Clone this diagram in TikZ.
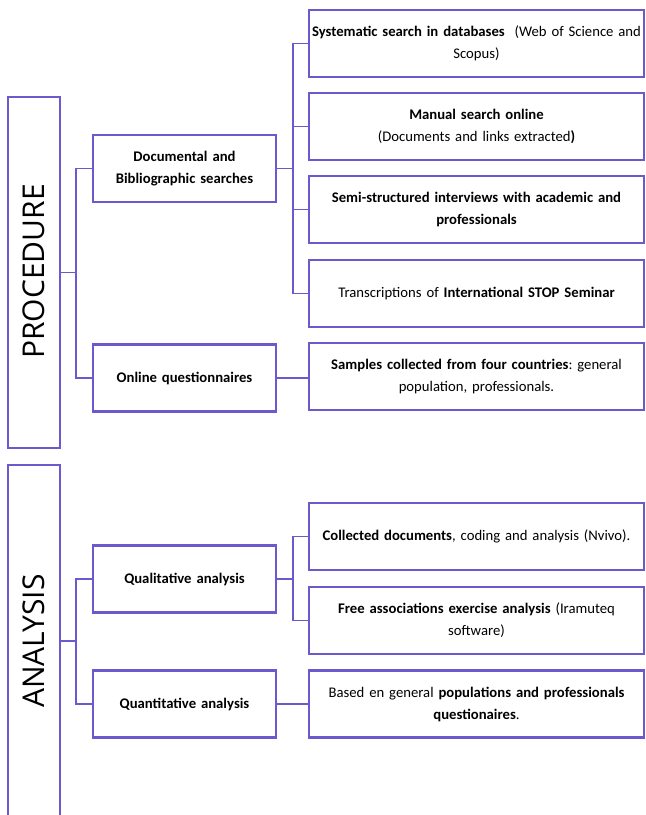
\documentclass[tikz,border=0pt]{standalone}
\usepackage{fontspec}
\setmainfont{Carlito}
\newfontfamily\bigfont{Open Sans}
\definecolor{pc}{RGB}{106,90,205}
\frenchspacing
\tikzset{
  sidebox/.style={draw=pc, line width=2pt, minimum width=52pt, inner sep=0pt},
  sidelabel/.style={rotate=90, font=\bigfont\fontsize{30}{34}\selectfont},
  midbox/.style={draw=pc, line width=2.8pt, minimum width=183pt, minimum height=67pt, inner sep=2pt,
    align=center, text width=178pt, font=\bfseries\fontsize{14.7}{22}\selectfont},
  rbox/.style={draw=pc, line width=2.8pt, minimum width=335pt, minimum height=67pt, inner sep=2pt,
    align=center, text width=330pt, font=\fontsize{14.7}{22}\selectfont},
  conn/.style={draw=pc, line width=1.5pt}
}
\begin{document}
\begin{tikzpicture}[x=1pt,y=-1pt]
\clip (0,0) rectangle (646,815);
\fill[white] (0,0) rectangle (646,815);
% side boxes
\node[sidebox, minimum height=351pt] (proc) at (34,272.5) {};
\node[sidelabel] (proct) at (34,271.5) {PROCEDURE};
\node[sidebox, minimum height=352pt] (ana) at (34,641) {};
\node[sidelabel] (anat) at (34,641) {ANALYSIS};
% middle boxes
\node[midbox] (doc) at (184.5,168.5) {Documental and\\Bibliographic searches};
\node[midbox] (onl) at (184.5,378) {Online questionnaires};
\node[midbox] (qual) at (184.5,579) {Qualitative analysis};
\node[midbox] (quant) at (184.5,704) {Quantitative analysis};
% right boxes
\node[rbox] (r1) at (476.5,43.5) {\textbf{Systematic search in databases}\ \ (Web of Science and\\Scopus)};
\node[rbox] (r2) at (476.5,126.5) {\textbf{Manual search online}\\(Documents and links extracted\textbf{)}};
\node[rbox] (r3) at (476.5,209.5) {\textbf{Semi-structured interviews with academic and}\\\textbf{professionals}};
\node[rbox] (r4) at (476.5,293.5) {Transcriptions of \textbf{International STOP Seminar}};
\node[rbox] (r5) at (476.5,376.5) {\textbf{Samples collected from four countries}: general\\population, professionals.};
\node[rbox] (r6) at (476.5,536.5) {\textbf{Collected documents}, coding and analysis (Nvivo).};
\node[rbox] (r7) at (476.5,620.5) {\textbf{Free associations exercise analysis} (Iramuteq\\software)};
\node[rbox] (r8) at (476.5,704) {Based en general \textbf{populations and professionals}\\\textbf{questionaires}.};
% junctions
\coordinate (j1) at (76,272.5);
\coordinate (j2) at (293,168.5);
\coordinate (j3) at (76,641);
\coordinate (j4) at (293,579);
% connectors
\draw[conn] (proc.east) -- (j1);
\draw[conn] (doc.west) -| (j1);
\draw[conn] (onl.west) -| (j1);
\draw[conn] (doc.east) -- (j2);
\draw[conn] (r1.west) -| (j2);
\draw[conn] (r2.west) -| (j2);
\draw[conn] (r3.west) -| (j2);
\draw[conn] (r4.west) -| (j2);
\draw[conn] (onl.east) -- (onl.east -| r5.west);
\draw[conn] (ana.east) -- (j3);
\draw[conn] (qual.west) -| (j3);
\draw[conn] (quant.west) -| (j3);
\draw[conn] (qual.east) -- (j4);
\draw[conn] (r6.west) -| (j4);
\draw[conn] (r7.west) -| (j4);
\draw[conn] (quant.east) -- (r8.west);
\end{tikzpicture}
\end{document}
